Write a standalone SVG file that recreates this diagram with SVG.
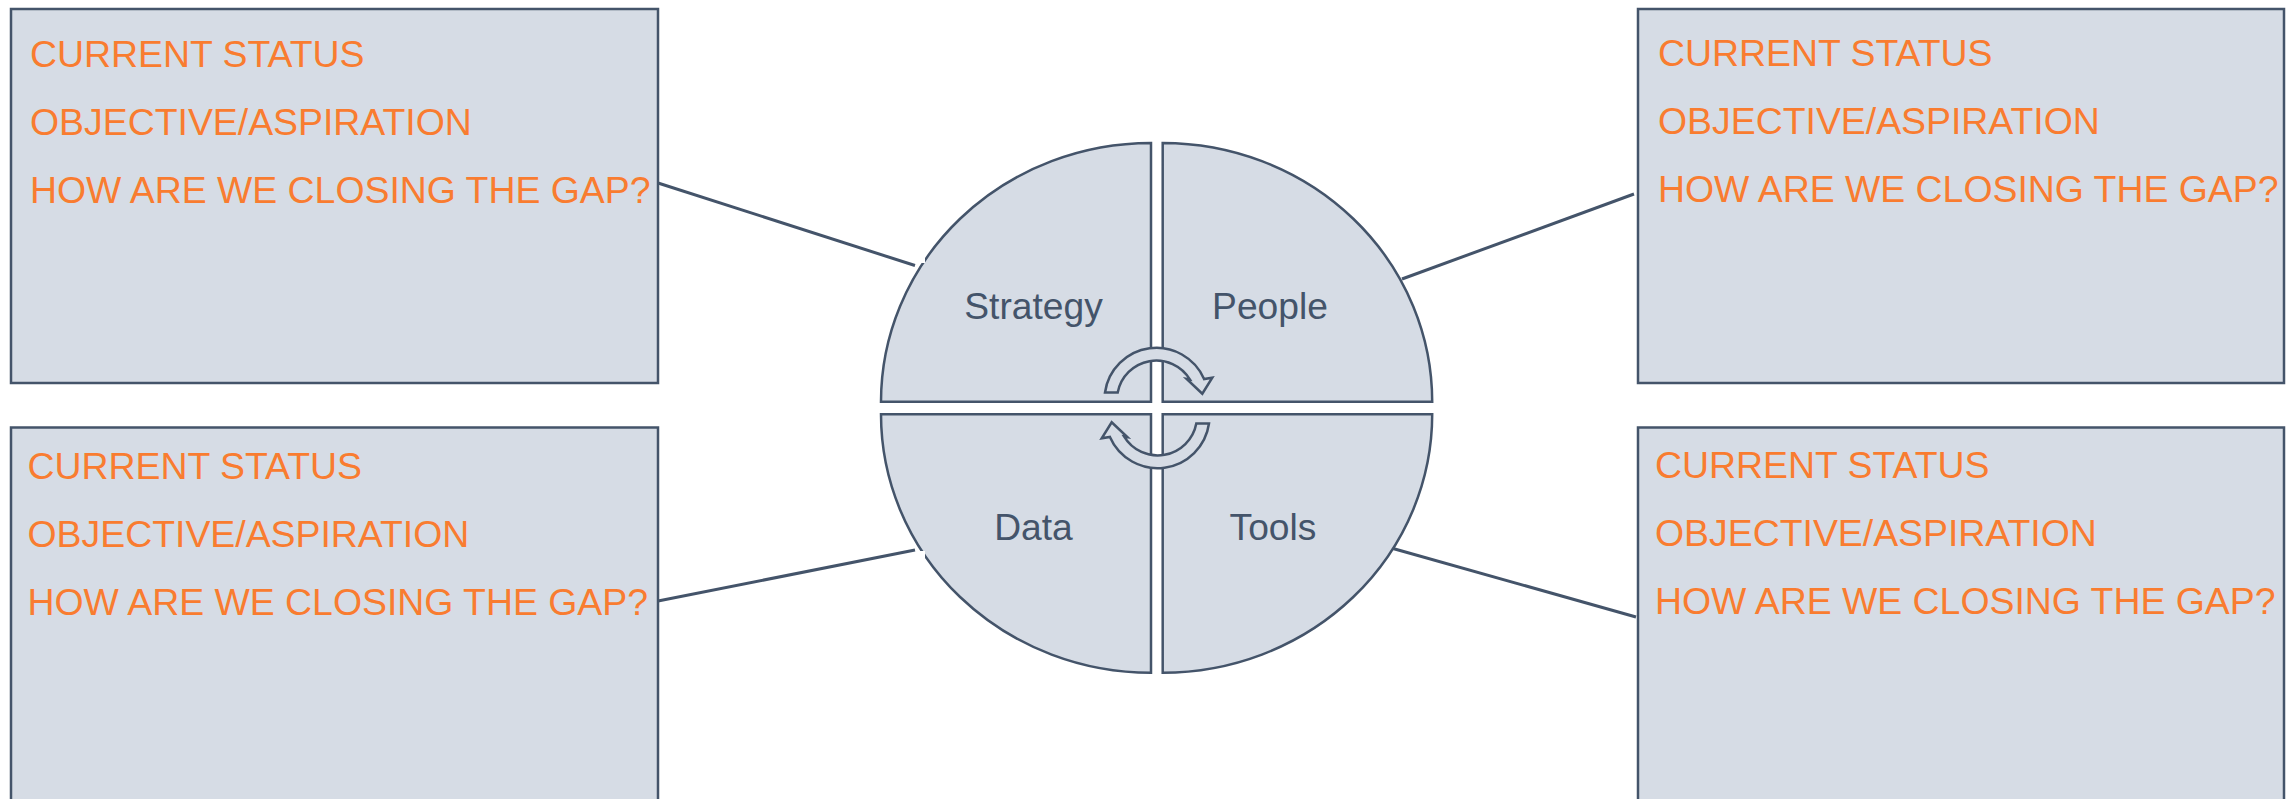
<svg xmlns="http://www.w3.org/2000/svg" width="2291" height="799" viewBox="0 0 2291 799">
<style>
.box{fill:#D6DCE5;stroke:#44546A;stroke-width:2.5}
.q{fill:#D6DCE5;stroke:#44546A;stroke-width:2.5;stroke-linejoin:miter}
.t{font-family:"Liberation Sans",Arial,sans-serif;font-size:37.4px;fill:#F97C30}
.lbl{font-family:"Liberation Sans",Arial,sans-serif;font-size:37.2px;fill:#44546A;text-anchor:middle}
.conn{stroke:#44546A;stroke-width:3;fill:none}
.arr{fill:#D6DCE5;stroke:#44546A;stroke-width:2.5;stroke-linejoin:miter}
</style>
<rect width="2291" height="799" fill="#FFFFFF"/>
<g id="connectors">
<line class="conn" x1="658" y1="183" x2="915" y2="265.5"/>
<line class="conn" x1="1402" y1="279" x2="1634" y2="194"/>
<line class="conn" x1="658" y1="601" x2="915" y2="550"/>
<line class="conn" x1="1393" y1="548.5" x2="1636" y2="617"/>
</g>
<g id="box-tl">
<rect class="box" x="11" y="9" width="647" height="374"/>
<text class="t" x="30" y="67">CURRENT STATUS</text>
<text class="t" x="30" y="135">OBJECTIVE/ASPIRATION</text>
<text class="t" x="30" y="203">HOW ARE WE CLOSING THE GAP?</text>
</g>
<g id="box-tr">
<rect class="box" x="1638" y="9" width="646" height="374"/>
<text class="t" x="1658" y="66">CURRENT STATUS</text>
<text class="t" x="1658" y="134">OBJECTIVE/ASPIRATION</text>
<text class="t" x="1658" y="202">HOW ARE WE CLOSING THE GAP?</text>
</g>
<g id="box-bl">
<rect class="box" x="11" y="427.5" width="647" height="400"/>
<text class="t" x="27.5" y="479">CURRENT STATUS</text>
<text class="t" x="27.5" y="547">OBJECTIVE/ASPIRATION</text>
<text class="t" x="27.5" y="615">HOW ARE WE CLOSING THE GAP?</text>
</g>
<g id="box-br">
<rect class="box" x="1638" y="427.5" width="646" height="400"/>
<text class="t" x="1655" y="478">CURRENT STATUS</text>
<text class="t" x="1655" y="546">OBJECTIVE/ASPIRATION</text>
<text class="t" x="1655" y="614">HOW ARE WE CLOSING THE GAP?</text>
</g>
<g id="strategy">
<path class="q" d="M1151,401.7 L881,401.7 A270,258.7 0 0 1 1151,143 Z"/>
<text class="lbl" x="1033.5" y="319">Strategy</text>
</g>
<g id="people">
<path class="q" d="M1162.7,401.7 L1162.7,143 A269.5,258.7 0 0 1 1432.2,401.7 Z"/>
<text class="lbl" x="1270" y="319">People</text>
</g>
<g id="data">
<path class="q" d="M1151,414.3 L1151,672.7 A270,258.4 0 0 1 881,414.3 Z"/>
<text class="lbl" x="1033.5" y="539.5">Data</text>
</g>
<g id="tools">
<path class="q" d="M1162.7,414.3 L1432.2,414.3 A269.5,258.4 0 0 1 1162.7,672.7 Z"/>
<text class="lbl" x="1273" y="539.5">Tools</text>
</g>
<g id="marks">
<rect x="920" y="250" width="5" height="13" fill="#FFFFFF"/>
<rect x="920" y="551" width="5" height="12" fill="#FFFFFF"/>
</g>
<g id="cycle-arrows">
<path id="arrow-top" class="arr" d="M1105,392.5 A52,52 0 0 1 1204.1,379 L1212.3,377.7 L1202.3,393.7 L1186.7,379 L1190,379.6 A39.3,39.3 0 0 0 1117.7,392.5 Z"/>
<path id="arrow-bottom" class="arr" transform="rotate(180 1157 408)" d="M1105,392.5 A52,52 0 0 1 1204.1,379 L1212.3,377.7 L1202.3,393.7 L1186.7,379 L1190,379.6 A39.3,39.3 0 0 0 1117.7,392.5 Z"/>
</g>
</svg>
